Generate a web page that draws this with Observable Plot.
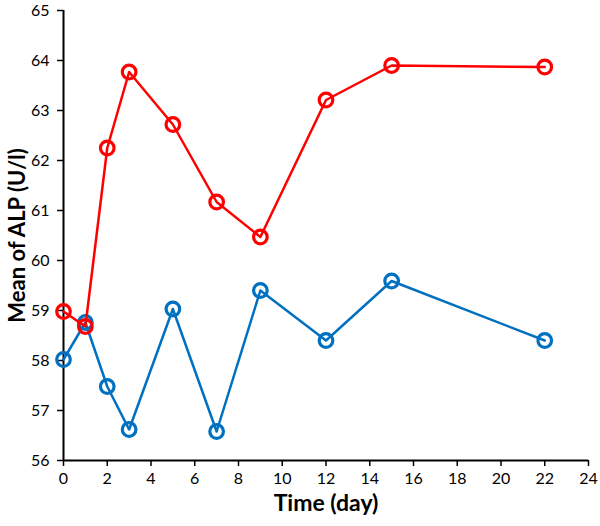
<!DOCTYPE html>
<html>
<head>
<meta charset="utf-8">
<script src="https://cdn.jsdelivr.net/npm/d3@7"></script>
<script src="https://cdn.jsdelivr.net/npm/@observablehq/plot@0.6"></script>
<style>
  html, body { margin: 0; padding: 0; background: #fff; }
</style>
</head>
<body>
<div id="chart"></div>
<script>
const times = [0, 1, 2, 3, 5, 7, 9, 12, 15, 22];
const redValues = [58.98, 58.68, 62.25, 63.77, 62.72, 61.17, 60.47, 63.21, 63.90, 63.87];
const blueValues = [58.02, 58.76, 57.48, 56.62, 59.03, 56.58, 59.40, 58.40, 59.59, 58.40];
const xTicks = [0, 2, 4, 6, 8, 10, 12, 14, 16, 18, 20, 22, 24];
const yTicks = [56, 57, 58, 59, 60, 61, 62, 63, 64, 65];
const seriesColors = { red: "#ff0000", blue: "#0070c0" };

const redData = times.map((t, i) => ({ t, v: redValues[i] }));
const blueData = times.map((t, i) => ({ t, v: blueValues[i] }));

const font = "Lato, 'Open Sans', sans-serif";

const chart = Plot.plot({
  width: 600,
  height: 526,
  marginLeft: 63,
  marginRight: 12,
  marginTop: 10,
  marginBottom: 66,
  style: { fontFamily: font, fontSize: "16px", color: "#000", background: "#fff" },
  x: { domain: [0, 24] },
  y: { domain: [56, 65] },
  marks: [
    Plot.axisX({ ticks: xTicks, tickSize: 6, tickPadding: 6, label: null, fontSize: 16, stroke: "#000", strokeWidth: 1.5 }),
    Plot.axisY({ ticks: yTicks, tickSize: 6, tickPadding: 8, label: null, fontSize: 16, stroke: "#000", strokeWidth: 1.5 }),
    Plot.ruleX([0], { stroke: "#000", strokeWidth: 2 }),
    Plot.ruleY([56], { stroke: "#000", strokeWidth: 2 }),
    Plot.line(blueData, { x: "t", y: "v", stroke: seriesColors.blue, strokeWidth: 2.5 }),
    Plot.dot(blueData, { x: "t", y: "v", r: 6.8, stroke: seriesColors.blue, strokeWidth: 3.2, fill: "none" }),
    Plot.line(redData, { x: "t", y: "v", stroke: seriesColors.red, strokeWidth: 2.5 }),
    Plot.dot(redData, { x: "t", y: "v", r: 6.8, stroke: seriesColors.red, strokeWidth: 3.2, fill: "none" }),
    Plot.text(["Time (day)"], { frameAnchor: "bottom", dy: 50, fontSize: 23, fontWeight: "bold", fill: "#000" }),
    Plot.text(["Mean of ALP (U/l)"], { frameAnchor: "left", textAnchor: "middle", dx: -46, rotate: -90, fontSize: 22, fontWeight: "bold", fill: "#000" })
  ]
});
document.getElementById("chart").appendChild(chart);
</script>
</body>
</html>
